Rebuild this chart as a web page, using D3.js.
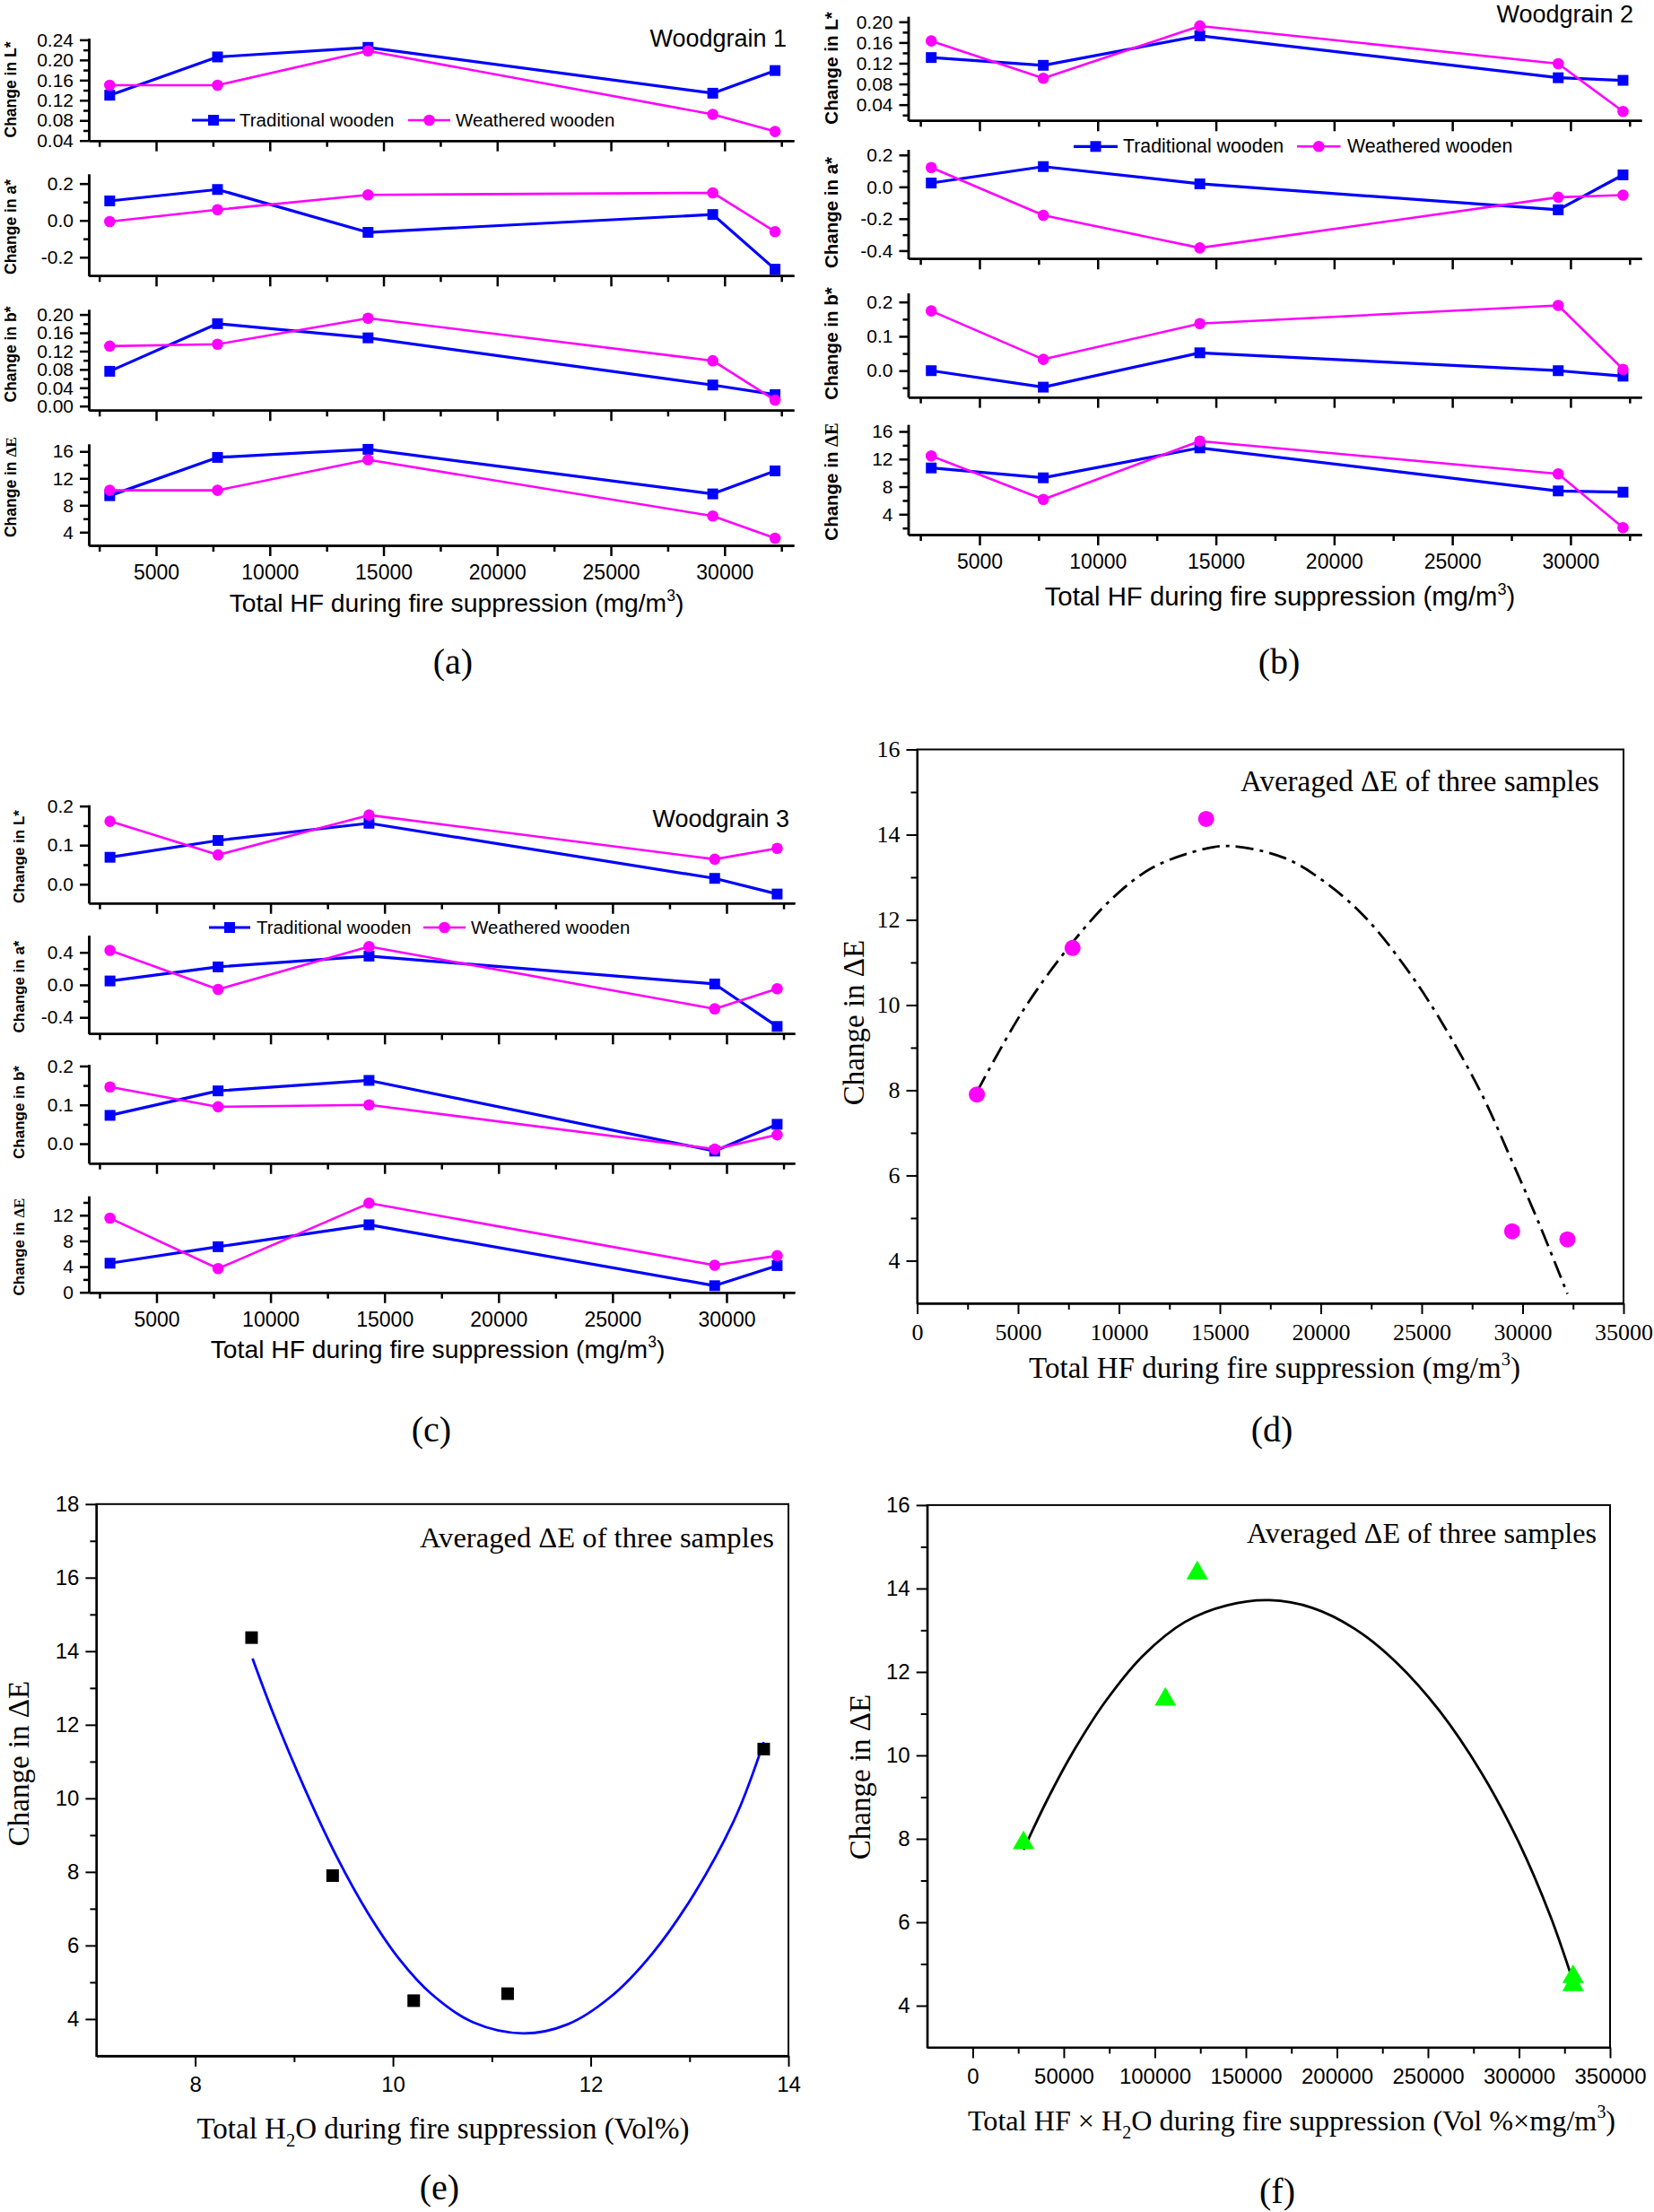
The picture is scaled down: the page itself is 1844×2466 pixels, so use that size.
<!DOCTYPE html>
<html><head><meta charset="utf-8">
<script src="https://cdn.jsdelivr.net/npm/d3@7/dist/d3.min.js"></script>
<style>body{margin:0;background:#fff}svg{display:block}</style>
</head><body>
<svg id="c" width="1844" height="2466"></svg>
<script>
// ---------------- DATA ----------------
const hf = [2960, 7700, 14320, 29480, 32220];
const seriesNames = ["Traditional wooden", "Weathered wooden"];
const hfTicks = [5000, 10000, 15000, 20000, 25000, 30000];
const hfMinorTicks = [2500, 7500, 12500, 17500, 22500, 27500, 32500];

// Woodgrain 1
const wg1_L_trad = [0.130, 0.206, 0.225, 0.134, 0.179];
const wg1_L_weat = [0.150, 0.150, 0.218, 0.092, 0.058];
const wg1_a_trad = [0.106, 0.168, -0.065, 0.032, -0.265];
const wg1_a_weat = [-0.006, 0.058, 0.139, 0.150, -0.061];
const wg1_b_trad = [0.076, 0.180, 0.149, 0.046, 0.025];
const wg1_b_weat = [0.131, 0.135, 0.192, 0.099, 0.013];
const wg1_E_trad = [9.42, 15.11, 16.31, 9.69, 13.11];
const wg1_E_weat = [10.22, 10.22, 14.76, 6.40, 3.11];
// Woodgrain 2
const wg2_L_trad = [0.131, 0.116, 0.173, 0.092, 0.087];
const wg2_L_weat = [0.163, 0.091, 0.192, 0.119, 0.027];
const wg2_a_trad = [0.024, 0.127, 0.019, -0.144, 0.075];
const wg2_a_weat = [0.121, -0.178, -0.383, -0.065, -0.052];
const wg2_b_trad = [0.000, -0.048, 0.052, 0.000, -0.016];
const wg2_b_weat = [0.174, 0.033, 0.137, 0.190, 0.004];
const wg2_E_trad = [10.71, 9.28, 13.62, 7.38, 7.20];
const wg2_E_weat = [12.45, 6.16, 14.61, 9.85, 2.05];
// Woodgrain 3
const wg3_L_trad = [0.069, 0.112, 0.156, 0.015, -0.025];
const wg3_L_weat = [0.161, 0.075, 0.177, 0.064, 0.092];
const wg3_a_trad = [0.048, 0.221, 0.354, 0.011, -0.512];
const wg3_a_weat = [0.424, -0.055, 0.472, -0.295, -0.048];
const wg3_b_trad = [0.073, 0.136, 0.163, -0.019, 0.050];
const wg3_b_weat = [0.146, 0.095, 0.100, -0.014, 0.023];
const wg3_E_trad = [4.53, 7.10, 10.51, 1.03, 4.16];
const wg3_E_weat = [11.54, 3.69, 13.88, 4.21, 5.70];

// Averaged dE of three samples
const avgDE = [7.90, 11.34, 14.37, 4.69, 4.50];
const h2o = [9.39, 13.75, 8.57, 11.16, 10.21];
const hfXh2o = [27900, 105800, 123300, 329700, 329700];

// Fitted curves
const fitD_x = [2960, 5260, 7700, 9710, 11680, 14290, 15600, 18220, 20310, 22280, 24240, 25810, 27910, 29480, 30790, 32220];
const fitD_y = [7.96, 9.88, 11.47, 12.52, 13.23, 13.67, 13.73, 13.45, 12.85, 12.02, 10.86, 9.74, 7.97, 6.33, 4.90, 3.22];
const fitE_x = [8.58, 8.79, 9.11, 9.43, 9.75, 10.07, 10.39, 10.81, 11.32, 11.77, 12.20, 12.62, 13.05, 13.47, 13.75];
const fitE_y = [13.80, 12.30, 10.25, 8.42, 6.87, 5.61, 4.68, 3.91, 3.61, 3.86, 4.60, 5.77, 7.42, 9.52, 11.53];
const fitF_x = [27900, 41000, 55500, 73000, 93300, 116600, 139800, 163100, 186300, 209600, 232800, 256100, 279400, 299700, 317200, 329700];
const fitF_y = [7.74, 8.94, 10.11, 11.30, 12.38, 13.20, 13.60, 13.72, 13.54, 13.04, 12.22, 11.08, 9.58, 7.93, 6.15, 4.58];

// ---------------- DRAWING ----------------
const SANS = "'Liberation Sans', Arial, Helvetica, sans-serif";
const SERIF = "'Liberation Serif', 'Times New Roman', Times, serif";
const BLUE = "#0000ff", MAG = "#ff00ff", GREEN = "#00ff00";
const svg = d3.select("#c");
svg.append("rect").attr("width", 1844).attr("height", 2466).attr("fill", "#fff");

function rich(t, parts, size) {
  let shift = 0;
  parts.forEach(([s, type]) => {
    const target = type === "sup" ? -size * 0.42 : type === "sub" ? size * 0.28 : 0;
    const ts = t.append("tspan").text(s);
    if (target - shift !== 0) ts.attr("dy", target - shift);
    shift = target;
    if (type === "sup" || type === "sub") ts.attr("font-size", size * 0.62);
    if (type === "serif") ts.attr("font-family", SERIF);
  });
}
function styleAxis(g, fam, size, sw) {
  g.attr("font-family", null).attr("font-size", null);
  g.select(".domain").attr("stroke", "#000").attr("stroke-width", sw);
  g.selectAll(".tick line").attr("stroke", "#000").attr("stroke-width", sw);
  g.selectAll(".tick text").attr("fill", "#000").attr("font-family", fam).attr("font-size", size);
}
const f1 = v => v.toFixed(1), f2 = v => v.toFixed(2), fd = d3.format("d");

function drawStacked(p) {
  const x = d3.scaleLinear().domain(p.xDomain).range(p.xRange);
  p.subs.forEach((s, i) => {
    const y = d3.scaleLinear().domain(s.domain).range([s.yBottom, s.yTop]);
    const last = i === p.subs.length - 1;
    styleAxis(svg.append("g").attr("transform", `translate(0,${s.yBottom})`)
      .call(d3.axisBottom(x).tickValues(hfMinorTicks).tickSize(7).tickSizeOuter(0).tickFormat("")), SANS, 23, 2.5);
    styleAxis(svg.append("g").attr("transform", `translate(0,${s.yBottom})`)
      .call(d3.axisBottom(x).tickValues(hfTicks).tickSize(12).tickSizeOuter(0).tickPadding(10).tickFormat(last ? fd : "")), SANS, 23, 2.5);
    styleAxis(svg.append("g").attr("transform", `translate(${p.xRange[0]},0)`)
      .call(d3.axisLeft(y).tickValues(s.minor).tickSize(6).tickSizeOuter(0).tickFormat("")), SANS, 21, 2.5);
    styleAxis(svg.append("g").attr("transform", `translate(${p.xRange[0]},0)`)
      .call(d3.axisLeft(y).tickValues(s.major).tickSize(10).tickSizeOuter(0).tickPadding(7).tickFormat(s.fmt)), SANS, 21, 2.5);
    const lab = svg.append("text").attr("transform", `translate(${p.labelX},${s.labelY}) rotate(-90)`)
      .attr("text-anchor", "middle").attr("dy", "0.35em").attr("font-family", SANS)
      .attr("font-weight", "bold").attr("font-size", p.labelSize).attr("fill", "#000");
    rich(lab, s.label, p.labelSize);
    [[s.trad, BLUE, "sq", 3.2], [s.weat, MAG, "ci", 2.6]].forEach(([vals, col, shape, lw]) => {
      const pts = hf.map((h, j) => [h, vals[j]]);
      svg.append("path").datum(pts).attr("d", d3.line().x(d => x(d[0])).y(d => y(d[1])))
        .attr("fill", "none").attr("stroke", col).attr("stroke-width", lw).attr("stroke-linejoin", "round");
      pts.forEach(d => {
        if (shape === "sq") svg.append("rect").attr("x", x(d[0]) - 6).attr("y", y(d[1]) - 6).attr("width", 12).attr("height", 12).attr("fill", col);
        else svg.append("circle").attr("cx", x(d[0])).attr("cy", y(d[1])).attr("r", 6.3).attr("fill", col);
      });
    });
  });
  // x title
  const xt = svg.append("text").attr("x", p.xTitle[0]).attr("y", p.xTitle[1]).attr("text-anchor", "middle")
    .attr("font-family", SANS).attr("font-size", p.xTitleSize).attr("fill", "#000");
  rich(xt, [["Total HF during fire suppression (mg/m"], ["3", "sup"], [")"]], p.xTitleSize);
  // woodgrain title
  svg.append("text").attr("x", p.title[0]).attr("y", p.title[1]).attr("text-anchor", "end")
    .attr("font-family", SANS).attr("font-size", 27).attr("fill", "#000").text(p.title[2]);
  // legend
  const L = p.legend;
  svg.append("line").attr("x1", L.b[0]).attr("x2", L.b[1]).attr("y1", L.y).attr("y2", L.y).attr("stroke", BLUE).attr("stroke-width", 3.2);
  svg.append("rect").attr("x", (L.b[0] + L.b[1]) / 2 - 6).attr("y", L.y - 6).attr("width", 12).attr("height", 12).attr("fill", BLUE);
  svg.append("text").attr("x", L.b[2]).attr("y", L.y + 7).attr("font-family", SANS).attr("font-size", L.fs).text(seriesNames[0]);
  svg.append("line").attr("x1", L.m[0]).attr("x2", L.m[1]).attr("y1", L.y).attr("y2", L.y).attr("stroke", MAG).attr("stroke-width", 2.6);
  svg.append("circle").attr("cx", (L.m[0] + L.m[1]) / 2).attr("cy", L.y).attr("r", 6.3).attr("fill", MAG);
  svg.append("text").attr("x", L.m[2]).attr("y", L.y + 7).attr("font-family", SANS).attr("font-size", L.fs).text(seriesNames[1]);
  // panel letter
  svg.append("text").attr("x", p.letter[0]).attr("y", p.letter[1]).attr("text-anchor", "middle").attr("dy", "0.35em")
    .attr("font-family", SERIF).attr("font-size", 40).text(p.letter[2]);
}

const lblL = [["Change in L*"]], lblA = [["Change in a*"]], lblB = [["Change in b*"]], lblE = [["Change in "], ["\u0394E", "serif"]];

drawStacked({
  xDomain: [2040, 33045], xRange: [99, 885], labelX: 12, labelSize: 17.5, xTitleSize: 28.3,
  xTitle: [509, 682], title: [877, 52, "Woodgrain 1"], letter: [505, 737, "(a)"],
  legend: { y: 134, b: [214, 262, 267], m: [455, 502, 508], fs: 20.5 },
  subs: [
    { domain: [0.04, 0.243], yBottom: 156.7, yTop: 42.7, major: [0.04, 0.08, 0.12, 0.16, 0.20, 0.24], minor: [0.06, 0.10, 0.14, 0.18, 0.22], fmt: f2, label: lblL, labelY: 100, trad: wg1_L_trad, weat: wg1_L_weat },
    { domain: [-0.30, 0.252], yBottom: 307.3, yTop: 194, major: [-0.2, 0, 0.2], minor: [-0.1, 0.1], fmt: f1, label: lblA, labelY: 253, trad: wg1_a_trad, weat: wg1_a_weat },
    { domain: [-0.009, 0.211], yBottom: 457.3, yTop: 345, major: [0, 0.04, 0.08, 0.12, 0.16, 0.20], minor: [0.02, 0.06, 0.10, 0.14, 0.18], fmt: f2, label: lblB, labelY: 395, trad: wg1_b_trad, weat: wg1_b_weat },
    { domain: [2.04, 17.1], yBottom: 608, yTop: 495, major: [4, 8, 12, 16], minor: [6, 10, 14], fmt: fd, label: lblE, labelY: 543, trad: wg1_E_trad, weat: wg1_E_weat }
  ]
});
drawStacked({
  xDomain: [1984, 33000], xRange: [1012.5, 1830], labelX: 927, labelSize: 20.5, xTitleSize: 29.3,
  xTitle: [1427, 675], title: [1821, 25, "Woodgrain 2"], letter: [1426, 737, "(b)"],
  legend: { y: 163.3, b: [1197, 1246, 1252], m: [1446, 1494.5, 1502], fs: 21.3 },
  subs: [
    { domain: [0.0095, 0.2104], yBottom: 134.3, yTop: 18.3, major: [0.04, 0.08, 0.12, 0.16, 0.20], minor: [0.02, 0.06, 0.10, 0.14, 0.18], fmt: f2, label: lblL, labelY: 76, trad: wg2_L_trad, weat: wg2_L_weat },
    { domain: [-0.45, 0.234], yBottom: 288.3, yTop: 166.7, major: [-0.4, -0.2, 0, 0.2], minor: [-0.3, -0.1, 0.1], fmt: f1, label: lblA, labelY: 237, trad: wg2_a_trad, weat: wg2_a_weat },
    { domain: [-0.077, 0.226], yBottom: 442.7, yTop: 326.7, major: [0, 0.1, 0.2], minor: [-0.05, 0.05, 0.15], fmt: f1, label: lblB, labelY: 383, trad: wg2_b_trad, weat: wg2_b_weat },
    { domain: [1.05, 17.0], yBottom: 596, yTop: 473.3, major: [4, 8, 12, 16], minor: [2, 6, 10, 14], fmt: fd, label: lblE, labelY: 537, trad: wg2_E_trad, weat: wg2_E_weat }
  ]
});
drawStacked({
  xDomain: [2030, 32990], xRange: [99, 886], labelX: 21, labelSize: 17, xTitleSize: 28.3,
  xTitle: [488, 1514], title: [880, 921.7, "Woodgrain 3"], letter: [481, 1593, "(c)"],
  legend: { y: 1034, b: [233, 279, 286], m: [472, 519, 525], fs: 20.5 },
  subs: [
    { domain: [-0.048, 0.203], yBottom: 1006.7, yTop: 897.3, major: [0, 0.1, 0.2], minor: [0.05, 0.15], fmt: f1, label: lblL, labelY: 955, trad: wg3_L_trad, weat: wg3_L_weat },
    { domain: [-0.60, 0.61], yBottom: 1152.3, yTop: 1042.7, major: [-0.4, 0, 0.4], minor: [-0.2, 0.2], fmt: f1, label: lblA, labelY: 1100, trad: wg3_a_trad, weat: wg3_a_weat },
    { domain: [-0.05, 0.204], yBottom: 1296.7, yTop: 1186.7, major: [0, 0.1, 0.2], minor: [0.05, 0.15], fmt: f1, label: lblB, labelY: 1240, trad: wg3_b_trad, weat: wg3_b_weat },
    { domain: [0, 15], yBottom: 1440.7, yTop: 1333.3, major: [0, 4, 8, 12], minor: [2, 6, 10, 14], fmt: fd, label: lblE, labelY: 1390, trad: wg3_E_trad, weat: wg3_E_weat }
  ]
});

function drawBox(p) {
  const x = d3.scaleLinear().domain(p.xDomain).range(p.xRange);
  const y = d3.scaleLinear().domain(p.yDomain).range(p.yRange);
  const [x0, x1] = p.xRange, [yb, yt] = p.yRange;
  styleAxis(svg.append("g").attr("transform", `translate(0,${yb})`)
    .call(d3.axisBottom(x).tickValues(p.xMinor).tickSize(7).tickSizeOuter(0).tickFormat("")), p.tf, p.ts, 2);
  styleAxis(svg.append("g").attr("transform", `translate(0,${yb})`)
    .call(d3.axisBottom(x).tickValues(p.xMajor).tickSize(12).tickSizeOuter(0).tickPadding(p.xPad).tickFormat(fd)), p.tf, p.ts, 2);
  styleAxis(svg.append("g").attr("transform", `translate(${x0},0)`)
    .call(d3.axisLeft(y).tickValues(p.yMinor).tickSize(7).tickSizeOuter(0).tickFormat("")), p.tf, p.ts, 2);
  styleAxis(svg.append("g").attr("transform", `translate(${x0},0)`)
    .call(d3.axisLeft(y).tickValues(p.yMajor).tickSize(12).tickSizeOuter(0).tickPadding(7).tickFormat(fd)), p.tf, p.ts, 2);
  svg.append("rect").attr("x", x0).attr("y", yt).attr("width", x1 - x0).attr("height", yb - yt)
    .attr("fill", "none").attr("stroke", "#000").attr("stroke-width", 2);
  // fit
  const fit = p.fitX.map((v, i) => [v, p.fitY[i]]);
  svg.append("path").datum(fit).attr("d", d3.line().curve(d3.curveCatmullRom).x(d => x(d[0])).y(d => y(d[1])))
    .attr("fill", "none").attr("stroke", p.fitColor).attr("stroke-width", 2.8).attr("stroke-dasharray", p.dash || null);
  // points
  p.px.forEach((v, i) => {
    const cx = x(v), cy = y(p.py[i]);
    if (p.marker === "circle") svg.append("circle").attr("cx", cx).attr("cy", cy).attr("r", 9).attr("fill", MAG);
    else if (p.marker === "square") svg.append("rect").attr("x", cx - 7).attr("y", cy - 7).attr("width", 14).attr("height", 14).attr("fill", "#000");
    else svg.append("path").attr("transform", `translate(${cx},${cy})`).attr("d", d3.symbol(d3.symbolTriangle, 250)()).attr("fill", GREEN);
  });
  // titles
  const yl = svg.append("text").attr("transform", `translate(${p.yTitle[0]},${p.yTitle[1]}) rotate(-90)`)
    .attr("text-anchor", "middle").attr("dy", "0.35em").attr("font-family", SERIF).attr("font-size", 33);
  rich(yl, [["Change in \u0394E"]], 33);
  const xl = svg.append("text").attr("x", p.xTitle[0]).attr("y", p.xTitle[1]).attr("text-anchor", "middle")
    .attr("font-family", SERIF).attr("font-size", p.xts);
  rich(xl, p.xTitleParts, p.xts);
  svg.append("text").attr("x", p.annot[0]).attr("y", p.annot[1]).attr("font-family", SERIF).attr("font-size", p.ans)
    .text("Averaged \u0394E of three samples");
  svg.append("text").attr("x", p.letter[0]).attr("y", p.letter[1]).attr("text-anchor", "middle").attr("dy", "0.35em")
    .attr("font-family", SERIF).attr("font-size", 40).text(p.letter[2]);
}

drawBox({
  xDomain: [0, 35000], xRange: [1022.5, 1810], yDomain: [3, 16], yRange: [1452.9, 835.5],
  xMajor: [0, 5000, 10000, 15000, 20000, 25000, 30000, 35000], xMinor: [2500, 7500, 12500, 17500, 22500, 27500, 32500],
  yMajor: [4, 6, 8, 10, 12, 14, 16], yMinor: [5, 7, 9, 11, 13, 15], tf: SERIF, ts: 26, xPad: 11,
  fitX: fitD_x, fitY: fitD_y, fitColor: "#000", dash: "20,7,4,7", px: hf, py: avgDE, marker: "circle",
  yTitle: [951, 1140], xTitle: [1421, 1536], xts: 33, ans: 33, xTitleParts: [["Total HF during fire suppression (mg/m"], ["3", "sup"], [")"]],
  annot: [1383, 882], letter: [1418, 1593, "(d)"]
});
drawBox({
  xDomain: [7, 14], xRange: [107.4, 879], yDomain: [3, 18], yRange: [2291.9, 1676.8],
  xMajor: [8, 10, 12, 14], xMinor: [9, 11, 13],
  yMajor: [4, 6, 8, 10, 12, 14, 16, 18], yMinor: [5, 7, 9, 11, 13, 15, 17], tf: SANS, ts: 24, xPad: 11,
  fitX: fitE_x, fitY: fitE_y, fitColor: BLUE, px: h2o, py: avgDE, marker: "square",
  yTitle: [20, 1966], xTitle: [494, 2384], xts: 33, ans: 32.6, xTitleParts: [["Total H"], ["2", "sub"], ["O during fire suppression (Vol%)"]],
  annot: [468, 1725], letter: [490, 2438, "(e)"]
});
drawBox({
  xDomain: [-25000, 350000], xRange: [1033.7, 1795], yDomain: [3, 16], yRange: [2282.5, 1677.9],
  xMajor: [0, 50000, 100000, 150000, 200000, 250000, 300000, 350000], xMinor: [25000, 75000, 125000, 175000, 225000, 275000, 325000],
  yMajor: [4, 6, 8, 10, 12, 14, 16], yMinor: [5, 7, 9, 11, 13, 15], tf: SANS, ts: 24, xPad: 11,
  fitX: fitF_x, fitY: fitF_y, fitColor: "#000", px: hfXh2o, py: avgDE, marker: "triangle",
  yTitle: [958, 1981], xTitle: [1440, 2375], xts: 32.2, ans: 32.2, xTitleParts: [["Total HF \u00d7 H"], ["2", "sub"], ["O during fire suppression (Vol %\u00d7mg/m"], ["3", "sup"], [")"]],
  annot: [1390, 1720], letter: [1424, 2442, "(f)"]
});
</script>
</body></html>
